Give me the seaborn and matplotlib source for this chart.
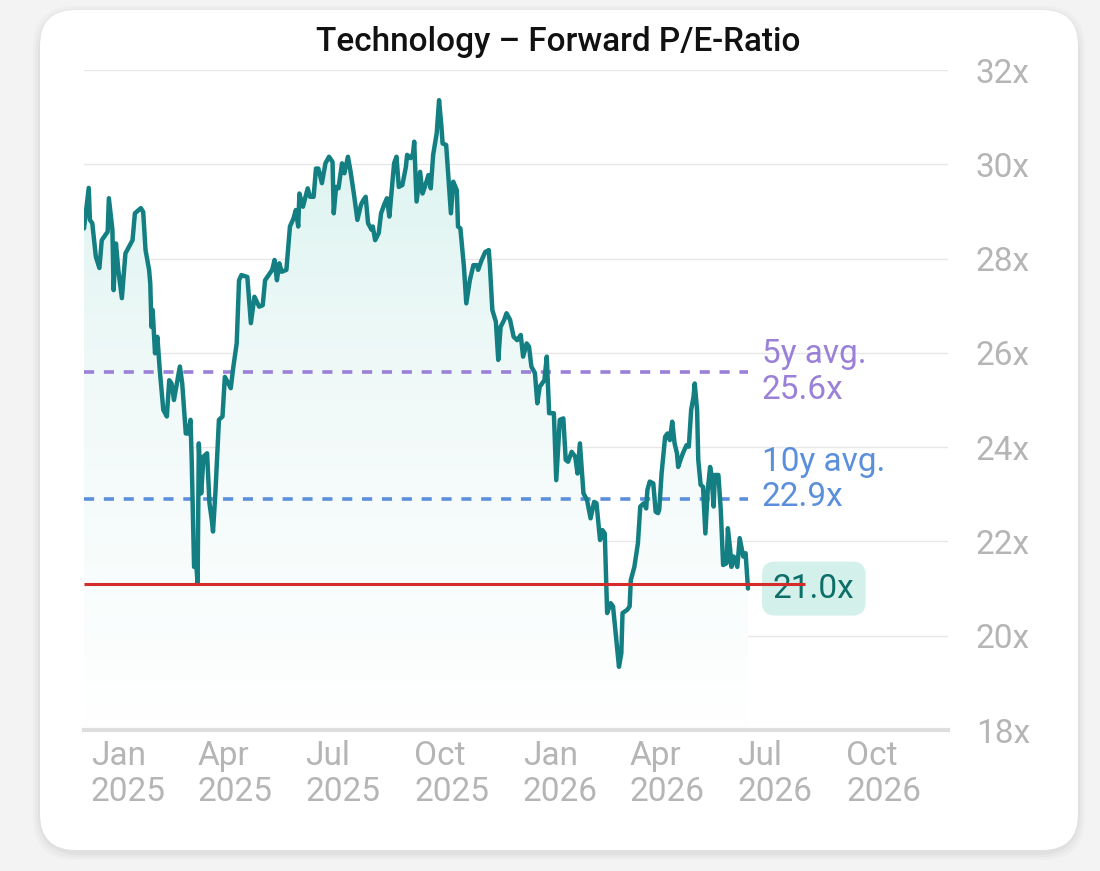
import numpy as np
import pandas as pd
import matplotlib.pyplot as plt
import matplotlib.transforms as mtransforms
from matplotlib.patches import FancyBboxPatch
from matplotlib.colors import LinearSegmentedColormap
import matplotlib.dates as mdates
import seaborn as sns

# --- data ---
start_date = "2025-01-01"
day_offset = [
    0, 4, 5, 7, 10, 13, 15, 18, 20, 21,
    24, 25, 27, 29, 32, 35, 38, 41, 43, 48,
    50, 52, 55, 56, 57, 58, 60, 62, 64, 67,
    70, 72, 74, 76, 78, 81, 83, 86, 88, 90,
    91, 93, 95, 96, 97, 99, 101, 104, 106, 108,
    109, 111, 114, 117, 119, 122, 124, 126, 129, 131,
    133, 138, 141, 144, 148, 151, 153, 156, 159, 161,
    163, 165, 167, 171, 174, 177, 179, 181, 182, 185,
    189, 191, 194, 196, 198, 201, 204, 207, 210, 211,
    213, 215, 218, 220, 223, 225, 228, 231, 234, 236,
    238, 240, 243, 244, 246, 249, 251, 254, 256, 258,
    260, 262, 264, 266, 269, 272, 273, 276, 278, 279,
    281, 284, 286, 288, 291, 293, 295, 298, 300, 302,
    303, 306, 308, 310, 312, 315, 316, 318, 321, 323,
    326, 329, 332, 333, 336, 339, 342, 343, 345, 348,
    350, 352, 355, 357, 360, 363, 366, 369, 371, 374,
    376, 378, 381, 383, 385, 389, 391, 393, 397, 399,
    402, 405, 407, 409, 412, 415, 417, 419, 422, 425,
    428, 431, 433, 436, 438, 440, 442, 445, 447, 450,
    452, 454, 455, 459, 461, 462, 465, 468, 470, 473,
    475, 476, 478, 481, 483, 485, 486, 488, 491, 493,
    495, 497, 499, 501, 502, 504, 506, 509, 511, 513,
    515, 516, 518, 519, 521, 523, 525, 527, 529, 530,
    532, 533, 536, 538, 540, 543, 544, 546, 547, 549,
    552, 554, 557, 559, 561,
]
pe_ratio = [
    28.64, 29.50, 28.82, 28.75, 28.04, 27.80, 28.39, 28.50, 28.57, 29.28,
    28.61, 27.33, 28.32, 27.76, 27.16, 28.11, 28.25, 28.39, 28.96, 29.07,
    28.99, 28.18, 27.76, 27.47, 26.55, 26.91, 25.99, 26.34, 25.64, 24.79,
    24.65, 25.42, 25.35, 25.00, 25.28, 25.71, 25.35, 24.29, 24.29, 24.58,
    23.73, 21.46, 21.46, 21.11, 24.08, 23.02, 23.80, 23.87, 22.81, 22.45,
    22.21, 23.02, 24.58, 24.65, 25.49, 25.35, 25.25, 25.67, 26.20, 27.54,
    27.65, 27.61, 26.63, 27.19, 26.98, 27.01, 27.54, 27.65, 27.76, 27.97,
    27.54, 27.90, 27.72, 27.76, 28.68, 28.85, 29.03, 28.68, 29.38, 29.10,
    29.49, 29.31, 29.31, 29.91, 29.91, 29.60, 30.02, 30.16, 30.05, 28.96,
    29.52, 29.49, 30.02, 29.81, 30.16, 29.88, 29.38, 28.82, 29.14, 29.24,
    29.31, 28.75, 28.61, 28.68, 28.39, 28.54, 28.96, 29.17, 29.28, 28.89,
    29.45, 30.02, 30.16, 29.52, 29.56, 29.95, 30.20, 30.13, 30.23, 30.48,
    29.21, 29.84, 29.38, 29.52, 29.77, 29.49, 30.20, 30.66, 31.36, 30.80,
    30.44, 30.41, 29.67, 28.96, 29.63, 29.45, 28.68, 28.64, 27.83, 27.05,
    27.54, 27.86, 27.86, 27.76, 27.97, 28.14, 28.18, 27.83, 26.91, 26.66,
    25.85, 26.55, 26.70, 26.84, 26.70, 26.34, 26.27, 26.38, 25.92, 26.20,
    26.13, 25.71, 25.57, 24.93, 25.28, 25.42, 25.92, 24.72, 24.72, 23.30,
    24.58, 24.61, 23.73, 23.69, 23.90, 23.80, 23.44, 24.08, 23.02, 22.88,
    22.49, 22.84, 22.81, 22.03, 22.24, 22.17, 20.48, 20.69, 20.62, 19.84,
    19.34, 19.63, 20.48, 20.55, 20.62, 21.18, 21.46, 21.96, 22.74, 22.81,
    22.70, 23.09, 23.27, 23.23, 22.63, 22.60, 22.67, 23.44, 24.22, 24.29,
    24.15, 24.54, 24.08, 23.87, 23.58, 23.73, 23.87, 24.04, 24.01, 24.79,
    25.07, 25.35, 24.79, 23.73, 23.20, 23.16, 22.17, 23.09, 23.58, 23.44,
    22.74, 23.41, 23.41, 22.67, 21.50, 21.54, 22.28, 21.82, 21.46, 21.68,
    21.46, 22.07, 21.68, 21.75, 21.00,
]
avg_5y = 25.6
avg_10y = 22.9
low_level = 21.1
current_label = "21.0x"
quarter_starts = ["2025-01-01", "2025-04-01", "2025-07-01", "2025-10-01",
                  "2026-01-01", "2026-04-01", "2026-07-01", "2026-10-01"]
quarter_labels = ["Jan\n2025", "Apr\n2025", "Jul\n2025", "Oct\n2025",
                  "Jan\n2026", "Apr\n2026", "Jul\n2026", "Oct\n2026"]
x_range = ["2025-01-01", "2027-01-01"]
y_ticks = [18, 20, 22, 24, 26, 28, 30, 32]

df = pd.DataFrame({
    "date": pd.Timestamp(start_date) + pd.to_timedelta(day_offset, unit="D"),
    "pe": pe_ratio,
})

sns.set_theme(style="white")
plt.rcParams['font.family'] = ['Roboto', 'DejaVu Sans']

TEAL = '#137f82'
PURPLE = '#9a80d8'
BLUE = '#5b8fdc'
RED = '#d42b2b'
GREY_TXT = '#b5b5b5'
FS = 24

fig = plt.figure(figsize=(11, 8.71), dpi=100, facecolor='#f3f3f4')

# card with soft shadow
for i, a in enumerate([0.02, 0.025, 0.03]):
    grow = 0.07 - i * 0.025
    fig.patches.append(FancyBboxPatch(
        (0.40 - grow, 0.18 - grow), 10.38 + 2 * grow, 8.40 + 2 * grow,
        boxstyle="round,pad=0,rounding_size=0.42", transform=fig.dpi_scale_trans,
        fc='#000000', ec='none', alpha=a, zorder=-3))
fig.patches.append(FancyBboxPatch(
    (0.40, 0.21), 10.38, 8.40, boxstyle="round,pad=0,rounding_size=0.36",
    transform=fig.dpi_scale_trans, fc='white', ec='none', zorder=-2))

ax = fig.add_axes([84 / 1100, 141 / 871, 864 / 1100, 660 / 871])
ax.set_facecolor('none')

x0, x1 = pd.to_datetime(x_range)

# gradient fill under the line
poly = ax.fill_between(df["date"], df["pe"], y_ticks[0], color='none', lw=0)
grad = np.linspace(0, 1, 256).reshape(-1, 1)
cmap = LinearSegmentedColormap.from_list('fade', ['#ffffff', '#f1faf9', '#d8f2ee'])
im = ax.imshow(grad, extent=[mdates.date2num(x0), mdates.date2num(x1), y_ticks[0], y_ticks[-1]],
               origin='lower', aspect='auto', cmap=cmap, zorder=1)
im.set_clip_path(poly.get_paths()[0], transform=ax.transData)

# reference lines
last_date = df["date"].iloc[-1]
ax.plot([x0, last_date], [avg_5y, avg_5y], color=PURPLE, lw=2.6,
        linestyle=(0, (2.8, 2.7)), zorder=2)
ax.plot([x0, last_date], [avg_10y, avg_10y], color=BLUE, lw=2.6,
        linestyle=(0, (2.8, 2.7)), zorder=2)

sns.lineplot(data=df, x="date", y="pe", ax=ax, color=TEAL, linewidth=3.2, zorder=4)

ax.plot([x0, last_date + pd.Timedelta(days=48)], [low_level, low_level],
        color=RED, lw=2.2, zorder=6, solid_capstyle='butt')

ax.annotate(f"5y avg.\n{avg_5y:.1f}x", xy=(last_date, avg_5y), xytext=(10, 0),
            textcoords='offset points', ha='left', va='center', fontsize=FS,
            color=PURPLE, linespacing=1.15, zorder=5)
ax.annotate(f"10y avg.\n{avg_10y:.1f}x", xy=(last_date, avg_10y), xytext=(10, 14),
            textcoords='offset points', ha='left', va='center', fontsize=FS,
            color=BLUE, linespacing=1.1, zorder=5)
ax.annotate(current_label, xy=(last_date, pe_ratio[-1]), xytext=(18, 0),
            textcoords='offset points', ha='left', va='center', fontsize=FS,
            color='#0e6f69', zorder=5,
            bbox=dict(boxstyle='round,pad=0.33,rounding_size=0.4', fc='#d3f0ea', ec='none'))

ax.set_xlim(x0, x1)
ax.set_ylim(y_ticks[0], y_ticks[-1])

# y axis on the right
ax.yaxis.tick_right()
ax.set_yticks(y_ticks)
ax.set_yticklabels([f"{v}x" for v in y_ticks])
ax.tick_params(axis='y', length=0, pad=20, labelsize=FS, labelcolor=GREY_TXT)
ax.yaxis.grid(True, color='#e7e7e7', lw=1)
ax.xaxis.grid(False)

# x axis: quarter separators with two-line labels
q_dates = pd.to_datetime(quarter_starts)
ax.set_xticks(q_dates)
ax.set_xticklabels([""] * len(q_dates))
ax.tick_params(axis='x', direction='out', length=56, width=1.6, color='#e1e1e1')
trans = mtransforms.offset_copy(
    mtransforms.blended_transform_factory(ax.transData, ax.transAxes),
    fig=fig, x=7, y=-10, units='dots')
for d, lab in zip(q_dates, quarter_labels):
    ax.text(d, 0, lab, transform=trans, ha='left', va='top', fontsize=FS,
            color=GREY_TXT, linespacing=1.15)

for s in ['top', 'left', 'right']:
    ax.spines[s].set_visible(False)
ax.spines['bottom'].set_color('#dedede')
ax.spines['bottom'].set_linewidth(3)
ax.set_xlabel("")
ax.set_ylabel("")

fig.text(558 / 1100, 1 - 42 / 871, "Technology \u2013 Forward P/E-Ratio",
         ha='center', va='center', fontsize=24, color='#111111', fontweight='medium')

fig.savefig("out.png", dpi=100, facecolor=fig.get_facecolor())
